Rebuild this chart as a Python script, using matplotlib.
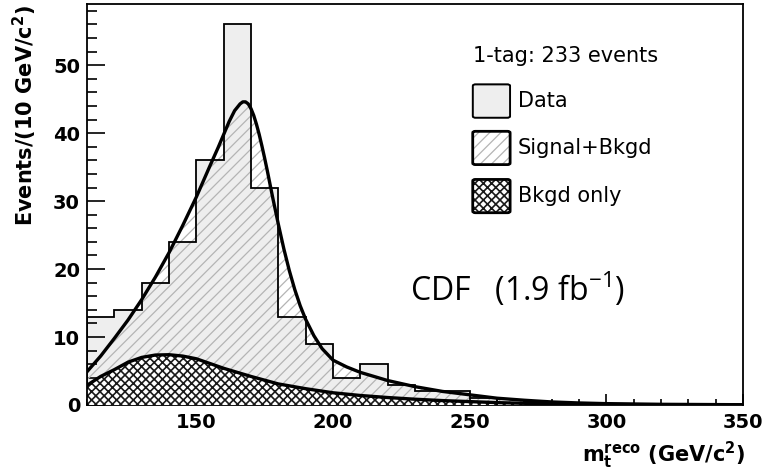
import numpy as np
import matplotlib
matplotlib.use("Agg")
from matplotlib import pyplot as plt
from matplotlib.patches import FancyBboxPatch

plt.rcParams['font.family'] = ['DejaVu Sans']
plt.rcParams['mathtext.fontset'] = 'dejavusans'
plt.rcParams['hatch.linewidth'] = 0.9

# data histogram, 10 GeV bins from 110
bin_edges = np.arange(110, 270, 10)
data_counts = [13, 14, 18, 24, 36, 56, 32, 13, 9, 4, 6, 3, 2, 2, 1]

# signal + background fit curve
sb_mass = [110, 115, 120, 125, 130, 135, 140, 145, 150, 155, 158, 160, 162, 164,
           166, 167, 168, 169, 170, 171, 172, 173, 174, 175, 176, 177, 178, 180,
           182, 184, 186, 188, 190, 193, 196, 200, 205, 210, 220, 230, 240, 250,
           260, 270, 280, 290, 300, 320, 350]
sb_vals = [4.9, 7.2, 9.8, 12.5, 15.5, 18.8, 22.4, 26.4, 30.6, 35.2, 37.9, 39.8,
           41.7, 43.3, 44.3, 44.6, 44.6, 44.3, 43.6, 42.6, 41.3, 39.8, 38.1,
           36.3, 34.4, 32.4, 30.4, 26.6, 23.0, 19.8, 17.0, 14.6, 12.6, 10.2,
           8.3, 6.6, 5.6, 4.8, 3.6, 2.7, 2.0, 1.5, 1.0, 0.7, 0.45, 0.3, 0.2,
           0.1, 0.04]

# background only curve
bg_mass = [110, 115, 120, 125, 130, 135, 140, 145, 150, 155, 160, 170, 180, 190,
           200, 210, 220, 230, 240, 250, 260, 270, 280, 300, 320, 350]
bg_vals = [2.9, 4.2, 5.2, 6.3, 7.0, 7.35, 7.4, 7.2, 6.8, 6.1, 5.4, 4.2, 3.1, 2.4,
           1.8, 1.4, 1.1, 0.85, 0.65, 0.5, 0.35, 0.25, 0.15, 0.07, 0.03, 0.01]

SB_HATCH, SB_COL, SB_LW = '///', '#b4b4b4', 0.9
BG_HATCH, BG_COL, BG_LW = 'xxxx', '#1a1a1a', 1.2


def set_hlw(artist, w):
    if hasattr(artist, 'set_hatch_linewidth'):
        artist.set_hatch_linewidth(w)


fig = plt.figure(figsize=(7.67, 4.71), dpi=100)
ax = fig.add_axes([87/767, 66/471, 656/767, 401/471])

# data bars fill
ax.bar(bin_edges[:-1], data_counts, width=10, align='edge', color='#eeeeee',
       edgecolor='none', zorder=1)

# hatched signal+bkgd area
with plt.rc_context({'hatch.linewidth': SB_LW}):
    sb_fill = ax.fill_between(sb_mass, 0, sb_vals, facecolor='none', edgecolor=SB_COL,
                              hatch=SB_HATCH, linewidth=0, zorder=2)
set_hlw(sb_fill, SB_LW)

# bkgd only crosshatch
with plt.rc_context({'hatch.linewidth': BG_LW}):
    bg_fill = ax.fill_between(bg_mass, 0, bg_vals, facecolor='white', edgecolor=BG_COL,
                              hatch=BG_HATCH, linewidth=0, zorder=3)
set_hlw(bg_fill, BG_LW)

# data outline
ax.stairs(data_counts, bin_edges, color='black', linewidth=1.3, zorder=4)

ax.plot(sb_mass, sb_vals, color='black', linewidth=2.4, zorder=5)
ax.plot(bg_mass, bg_vals, color='black', linewidth=2.4, zorder=5)

ax.set_xlim(110, 350)
ax.set_ylim(0, 59)
ax.set_xticks([150, 200, 250, 300, 350])
ax.set_xticks(np.arange(110, 351, 10), minor=True)
ax.set_yticks([0, 10, 20, 30, 40, 50])
ax.set_yticks(np.arange(0, 59, 2), minor=True)
ax.tick_params(which='both', direction='in', top=False, right=False)
ax.tick_params(axis='y', which='major', length=13, width=1.2, pad=5)
ax.tick_params(axis='y', which='minor', length=7, width=1.2)
ax.tick_params(axis='x', which='major', length=8, width=1.2, pad=6)
ax.tick_params(axis='x', which='minor', length=4, width=1.2)
for lab in ax.get_xticklabels() + ax.get_yticklabels():
    lab.set_fontsize(14)
    lab.set_fontweight('bold')
for s in ax.spines.values():
    s.set_linewidth(1.3)

fig.text(25/767, 1 - 5/471, r'Events/(10 GeV/c$^{\mathbf{2}}$)', rotation=90,
         ha='center', va='top', fontsize=15, fontweight='bold')
fig.text(745/767, 1 - 455/471,
         r'$\mathbf{m}_{\mathbf{t}}^{\mathbf{reco}}$ (GeV/c$^{\mathbf{2}}$)',
         ha='right', va='center', fontsize=15, fontweight='bold')

# legend
ax.text(0.588, 0.870, '1-tag: 233 events', transform=ax.transAxes,
        fontsize=15, ha='left', va='center')
leg_items = [('Data', 0.758, dict(facecolor='#eeeeee', edgecolor='black', lw=1.0), 1.3, SB_LW),
             ('Signal+Bkgd', 0.641, dict(facecolor='white', edgecolor=SB_COL, hatch=SB_HATCH, lw=0), 2.0, SB_LW),
             ('Bkgd only', 0.521, dict(facecolor='white', edgecolor=BG_COL, hatch=BG_HATCH, lw=0), 2.0, BG_LW)]
bw, bh = 0.057, 0.083
for label, yc, style, elw, hlw in leg_items:
    with plt.rc_context({'hatch.linewidth': hlw}):
        p = FancyBboxPatch((0.588, yc - bh/2), bw, bh, boxstyle='round,pad=0,rounding_size=0.004',
                           transform=ax.transAxes, zorder=6, **style)
    set_hlw(p, hlw)
    ax.add_patch(p)
    ax.add_patch(FancyBboxPatch((0.588, yc - bh/2), bw, bh,
                                boxstyle='round,pad=0,rounding_size=0.004',
                                transform=ax.transAxes, facecolor='none',
                                edgecolor='black', lw=elw, zorder=7))
    ax.text(0.657, yc, label, transform=ax.transAxes, fontsize=15,
            ha='left', va='center')

ax.text(0.492, 0.287, r'CDF   (1.9 fb$^{\mathregular{-1}}$)', transform=ax.transAxes,
        fontsize=23, family='Open Sans', ha='left', va='center')

fig.savefig('out.png', dpi=100)
